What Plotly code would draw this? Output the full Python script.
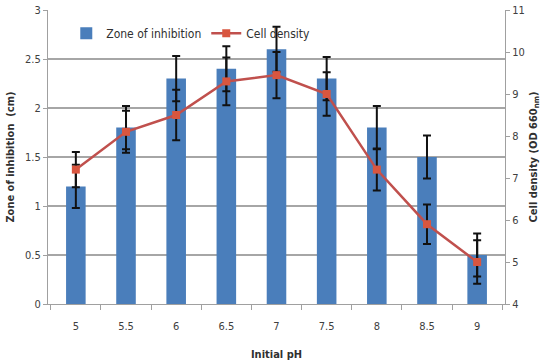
import plotly.graph_objects as go

ph = ["5", "5.5", "6", "6.5", "7", "7.5", "8", "8.5", "9"]
zone = [1.2, 1.8, 2.3, 2.4, 2.6, 2.3, 1.8, 1.5, 0.5]
zone_err = [0.22, 0.22, 0.23, 0.23, 0.23, 0.22, 0.22, 0.22, 0.22]
density = [7.2, 8.1, 8.5, 9.3, 9.45, 9.0, 7.2, 5.9, 5.0]
density_err = [0.42, 0.5, 0.6, 0.57, 0.55, 0.52, 0.5, 0.47, 0.52]

font_fam = "DejaVu Sans Condensed, Liberation Sans, sans-serif"

fig = go.Figure()
fig.add_trace(go.Bar(
    x=ph, y=zone, name="Zone of inhibition",
    marker=dict(color="#4A7EBB", line=dict(width=0)),
    width=0.39,
    error_y=dict(type="data", array=zone_err, visible=True,
                 color="#111111", thickness=2, width=4),
))
fig.add_trace(go.Scatter(
    x=ph, y=density, name="Cell density", yaxis="y2",
    mode="lines+markers",
    line=dict(color="#C0504D", width=2.5),
    marker=dict(symbol="square", size=8, color="#D9563F"),
    error_y=dict(type="data", array=density_err, visible=True,
                 color="#111111", thickness=2, width=4),
))

fig.update_layout(
    width=541, height=364,
    margin=dict(l=48, r=36, t=10, b=60),
    paper_bgcolor="white", plot_bgcolor="white",
    font=dict(family=font_fam, size=11, color="#404040"),
    showlegend=True,
    legend=dict(orientation="h", x=0.04, y=0.97, xanchor="left", yanchor="top",
                bgcolor="rgba(255,255,255,0)", font=dict(size=12, color="#303030"),
                itemwidth=30, tracegroupgap=0),
    xaxis=dict(
        type="category", automargin=False,
        title=dict(text="<b>Initial pH</b>", font=dict(size=11, color="#303030"), standoff=18),
        showline=True, linecolor="#A0A0A0", linewidth=1,
        ticks="outside", tickson="boundaries", ticklen=5, tickcolor="#A0A0A0",
        ticklabelstandoff=12,
        showgrid=False, tickfont=dict(size=11),
    ),
    yaxis=dict(
        range=[0, 3], dtick=0.5, automargin=False,
        title=dict(text="<b>Zone of inhibition  (cm)</b>", font=dict(size=11, color="#303030"), standoff=8),
        showline=True, linecolor="#A0A0A0", linewidth=1,
        ticks="outside", ticklen=4, tickcolor="#A0A0A0",
        showgrid=True, gridcolor="#A6A6A6", gridwidth=1.5,
        zeroline=False, tickfont=dict(size=11),
    ),
    yaxis2=dict(
        range=[4, 11], dtick=1, overlaying="y", side="right", automargin=False,
        title=dict(text="<b>Cell density (OD 660<sub>nm</sub>)</b>", font=dict(size=11, color="#303030"), standoff=8),
        showline=True, linecolor="#A0A0A0", linewidth=1,
        ticks="outside", ticklen=4, tickcolor="#A0A0A0",
        showgrid=False, zeroline=False, tickfont=dict(size=11),
    ),
)

fig.write_html("out.html")
